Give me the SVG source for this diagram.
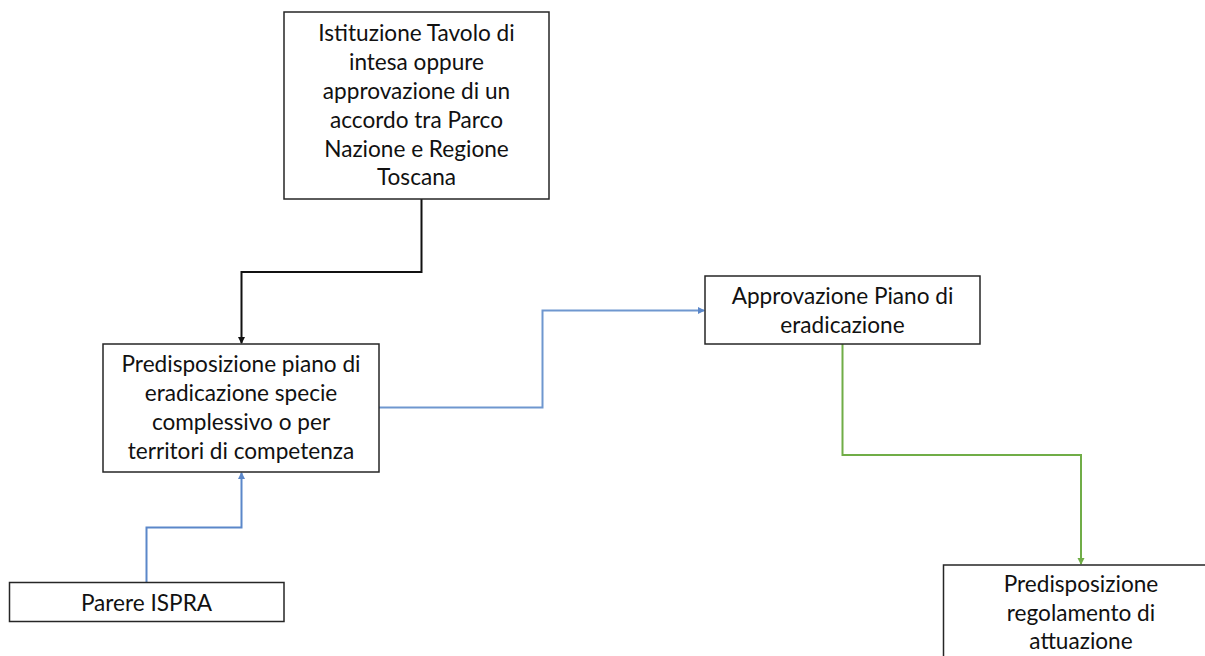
<svg xmlns="http://www.w3.org/2000/svg" width="1205" height="656" viewBox="0 0 1205 656">
<style>
.box{fill:#fff;stroke:#262626;stroke-width:1.5}
.t{font-family:Lato,"Liberation Sans",sans-serif;font-size:22.6px;fill:#111;text-anchor:middle}
.c{fill:none;stroke-width:2}
</style>
<defs>
<marker id="aK" markerWidth="8" markerHeight="8" refX="6" refY="4" orient="auto" markerUnits="userSpaceOnUse"><path d="M0,0.5 L7,4 L0,7.5 Z" fill="#111"/></marker>
<marker id="aB" markerWidth="8" markerHeight="8" refX="6" refY="4" orient="auto" markerUnits="userSpaceOnUse"><path d="M0,0.5 L7,4 L0,7.5 Z" fill="#5B87C9"/></marker>
<marker id="aG" markerWidth="8" markerHeight="8" refX="6" refY="4" orient="auto" markerUnits="userSpaceOnUse"><path d="M0,0.5 L7,4 L0,7.5 Z" fill="#70AD47"/></marker>
</defs>
<rect width="1205" height="656" fill="#fff"/>
<g id="connectors">
<path class="c" d="M421.5,199 V272 H241.5 V343" stroke="#111" marker-end="url(#aK)"/>
<path class="c" d="M379,407.5 H542.5 V310.5 H704" stroke="#6F97CF" marker-end="url(#aB)"/>
<path class="c" d="M146.5,582 V527.5 H241.5 V473" stroke="#5B87C9" marker-end="url(#aB)"/>
<path class="c" d="M842.5,344 V455 H1081 V564" stroke="#70AD47" marker-end="url(#aG)"/>
</g>
<g id="n-istituzione">
<rect class="box" x="284" y="12" width="265" height="187"/>
<text class="t" x="416.5" y="41">Istituzione Tavolo di</text>
<text class="t" x="416.5" y="70">intesa oppure</text>
<text class="t" x="416.5" y="99">approvazione di un</text>
<text class="t" x="416.5" y="128">accordo tra Parco</text>
<text class="t" x="416.5" y="157">Nazione e Regione</text>
<text class="t" x="416.5" y="185">Toscana</text>
</g>
<g id="n-predisposizione-piano">
<rect class="box" x="103" y="344" width="276" height="128"/>
<text class="t" x="241" y="372">Predisposizione piano di</text>
<text class="t" x="241" y="401">eradicazione specie</text>
<text class="t" x="241" y="430">complessivo o per</text>
<text class="t" x="241" y="459">territori di competenza</text>
</g>
<g id="n-approvazione">
<rect class="box" x="705" y="276" width="275" height="68"/>
<text class="t" x="842.5" y="304">Approvazione Piano di</text>
<text class="t" x="842.5" y="333">eradicazione</text>
</g>
<g id="n-regolamento">
<rect class="box" x="943.5" y="565" width="280" height="120"/>
<text class="t" x="1081" y="592">Predisposizione</text>
<text class="t" x="1081" y="621">regolamento di</text>
<text class="t" x="1081" y="649">attuazione</text>
</g>
<g id="n-ispra">
<rect class="box" x="9.5" y="582.5" width="274.5" height="39"/>
<text class="t" x="146.5" y="611">Parere ISPRA</text>
</g>
</svg>
